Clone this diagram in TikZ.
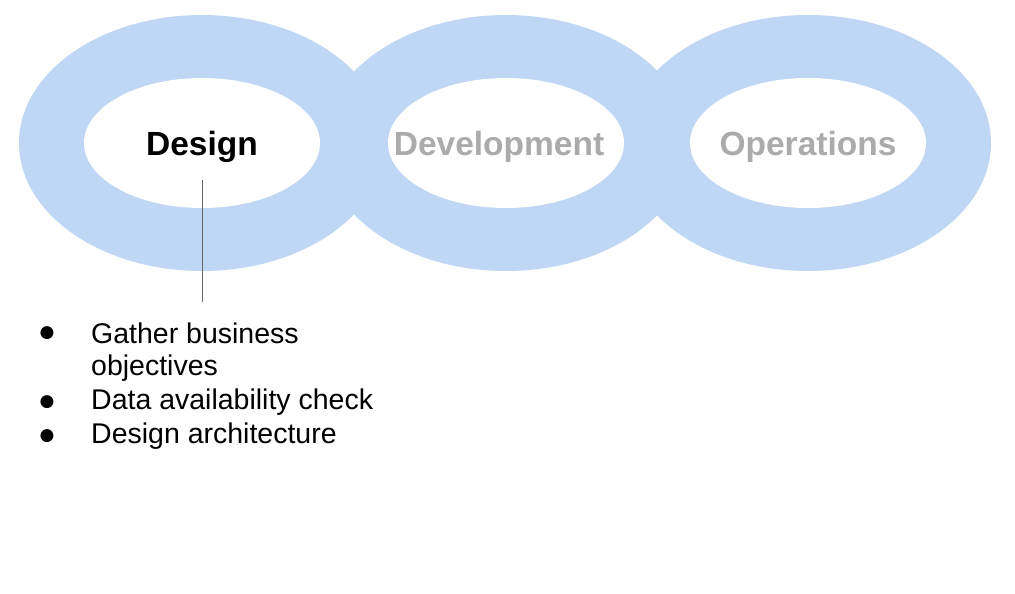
\documentclass[tikz,border=0pt]{standalone}
\usepackage{fontspec}
\setmainfont{Liberation Sans}
\newfontfamily\bulfont{DejaVu Sans}
\definecolor{ring}{HTML}{BFD7F5}
\definecolor{dim}{HTML}{ABABAB}
\begin{document}
\begin{tikzpicture}[x=1pt,y=-1pt,
  outer/.style={fill=ring,draw=none},
  inner/.style={fill=white,draw=none},
  stage/.style={font=\fontsize{33.5}{38}\selectfont\bfseries},
  item/.style={font=\fontsize{28.5}{33}\selectfont,anchor=west,inner sep=0pt},
  dot/.style={font=\bulfont\fontsize{17}{20}\selectfont,inner sep=0pt}]
\useasboundingbox (0,0) rectangle (1015,594);
\foreach \c in {202,506,808} \fill[ring] (\c,143) ellipse [x radius=183, y radius=128];
\foreach \c in {202,506,808} \fill[white] (\c,143) ellipse [x radius=118, y radius=65];
\node[stage,text=black] (d) at (202,147) {Design};
\node[stage,text=dim] (v) at (499,147) {Development};
\node[stage,text=dim] (o) at (808,147) {Operations};
\coordinate (lt) at (202,180);
\coordinate (lb) at (202,302);
\draw[gray!80!black,line width=0.8pt] (lt) -- (lb);
\node[dot] (b1) at (47,333) {●};
\node[item] (t1) at (91,333) {Gather business};
\node[item] (t1b) at (91,368) {objectives};
\node[dot] (b2) at (47,402) {●};
\node[item] (t2) at (91,402) {Data availability check};
\node[dot] (b3) at (47,436) {●};
\node[item] (t3) at (91,436) {Design architecture};
\end{tikzpicture}
\end{document}
